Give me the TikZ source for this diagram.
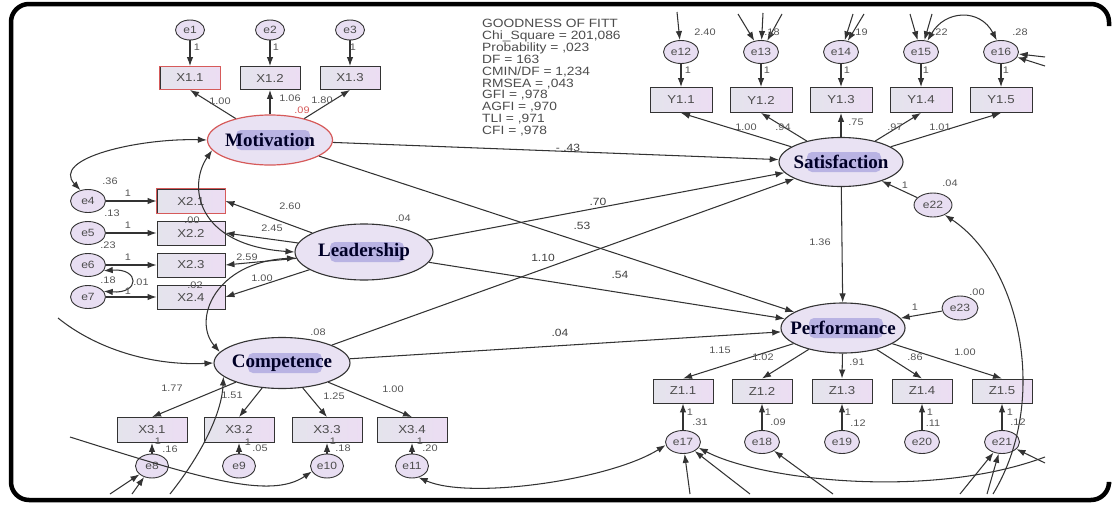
\documentclass[tikz,border=0pt]{standalone}
\usepackage{fontspec}
\setmainfont{Liberation Sans}
\newfontfamily\numfont{Liberation Sans}[FakeStretch=1.15]
\newfontfamily\latfont{Liberation Serif}
\usepackage{xcolor}
\usetikzlibrary{arrows.meta,shapes.geometric}
\definecolor{boxleft}{HTML}{E4E4EC}
\definecolor{boxright}{HTML}{ECDDF3}
\definecolor{errfill}{HTML}{E8DEF2}
\definecolor{latfill}{HTML}{E9E2F3}
\definecolor{blobcol}{HTML}{B9B3E3}
\definecolor{edgecol}{HTML}{333333}
\definecolor{labcol}{HTML}{555555}
\definecolor{redline}{HTML}{D65A5A}

\begin{document}
\begin{tikzpicture}[x=1pt,y=-1pt,>={Latex[length=9pt,width=6.5pt]},
 obs/.style={draw=edgecol,line width=0.9pt,left color=boxleft,right color=boxright,
   minimum width=62,minimum height=24,inner sep=0,
   font=\numfont\fontsize{11.5}{12}\selectfont,text=black!70},
 err/.style={ellipse,draw=edgecol,line width=0.9pt,fill=errfill,
   minimum width=34,minimum height=23,inner sep=0,
   font=\numfont\fontsize{10.5}{10}\selectfont,text=black!70},
 latent/.style={ellipse,draw=edgecol,line width=1.1pt,fill=latfill,inner sep=0,
   font=\latfont\bfseries\fontsize{19}{20}\selectfont,text=black!85!blue,
   path picture={\fill[blobcol,rounded corners=5pt]
     ([xshift=-34pt,yshift=-10pt]path picture bounding box.center) rectangle
     ([xshift=40pt,yshift=10pt]path picture bounding box.center);}},
 conn/.style={->,draw=edgecol,line width=1.05pt},
 cov/.style={<->,draw=edgecol,line width=1.05pt},
 lbl/.style={font=\numfont\fontsize{9.5}{10}\selectfont,text=labcol,inner sep=0},
 coef/.style={lbl,font=\numfont\fontsize{10.5}{11}\selectfont,text=black!75},
 gof/.style={align=left,inner sep=0,font=\numfont\fontsize{12}{11.9}\selectfont,text=black!70}]
    \useasboundingbox (0,0) rectangle (1114,506);
    % frame, open on the right
    \draw[line width=4.5pt,rounded corners=18pt] (1109,26) |- (11,4) |- (1109,500) -- (1109,484);

    % latent variables
    \node[latent,draw=redline,line width=1.2pt,minimum width=125,minimum height=50] (Mot)
      at (270,140) {\makebox[0pt]{Motivation}};
    \node[latent,minimum width=138,minimum height=56] (Lead) at (364,252) {\makebox[0pt]{Leadership}};
    \node[latent,minimum width=136,minimum height=51] (Comp) at (282,363) {\makebox[0pt]{Competence}};
    \node[latent,minimum width=124,minimum height=49] (Sat) at (841,162) {\makebox[0pt]{Satisfaction}};
    \node[latent,minimum width=124,minimum height=50] (Perf) at (843,328) {\makebox[0pt]{Performance}};
    \node[err,minimum width=38,minimum height=24] (e22) at (933,205) {e22};
    \node[err,minimum width=36,minimum height=24] (e23) at (960,308) {e23};

    % indicators
    \foreach \i/\x in {1/190,2/270,3/350} {
      \node[obs,minimum width=60,minimum height=23] (X1\i) at (\x,78) {X1.\i};
      \node[err,minimum width=29,minimum height=20] (e\i) at (\x,30) {e\i};
      \draw[conn] (e\i) -- (X1\i);
      \draw[conn] (Mot) -- (X1\i.south);
    }
    \foreach \i/\k/\y in {1/4/201,2/5/233,3/6/265,4/7/297} {
      \node[obs,minimum width=68] (X2\i) at (191,\y) {X2.\i};
      \node[err,minimum width=35] (e\k) at (88,\y) {e\k};
      \draw[conn] (e\k) -- (X2\i);
      \draw[conn] (Lead) -- (X2\i.east);
    }
    \foreach \i/\k/\x in {1/8/152,2/9/239,3/10/327,4/11/412} {
      \node[obs,minimum width=70,minimum height=25] (X3\i) at (\x,430) {X3.\i};
      \node[err,minimum width=33,minimum height=24] (e\k) at (\x,466) {e\k};
      \draw[conn] (e\k) -- (X3\i);
      \draw[conn] (Comp) -- (X3\i.north);
    }
    \foreach \i/\k/\x in {1/12/681,2/13/761,3/14/841,4/15/921,5/16/1001} {
      \node[obs,minimum height=25] (Y1\i) at (\x,100) {Y1.\i};
      \node[err,minimum width=35] (e\k) at (\x,52) {e\k};
      \draw[conn] (e\k) -- (Y1\i);
      \draw[conn] (Sat) -- (Y1\i.south);
    }
    \foreach \i/\k/\x in {1/17/683,2/18/762,3/19/842,4/20/922,5/21/1002} {
      \node[obs,minimum width=60] (Z1\i) at (\x,391) {Z1.\i};
      \node[err,minimum width=35] (e\k) at (\x,442) {e\k};
      \draw[conn] (e\k) -- (Z1\i);
      \draw[conn] (Perf) -- (Z1\i.north);
    }
    \draw[redline,line width=1pt] (X11.south west) rectangle (X11.north east);
    \draw[redline,line width=1pt] (X21.south west) rectangle (X21.north east);

    % structural paths
    \draw[conn] (Mot) -- (Sat);
    \draw[conn] (Mot) -- (Perf);
    \draw[conn] (Lead) -- (Sat);
    \draw[conn] (Lead) -- (Perf);
    \draw[conn] (Comp) -- (Sat);
    \draw[conn] (Comp) -- (Perf);
    \draw[conn] (Sat) -- (Perf);
    \draw[conn] (e22) -- (Sat);
    \draw[conn] (e23) -- (Perf);

    % covariances
    \draw[cov] (Mot.190) .. controls (188,185) and (195,245) .. (Lead.180);
    \draw[cov] (Lead.185) .. controls (215,262) and (192,320) .. (Comp.170);
    \draw[cov] (Mot.west) .. controls (140,138) and (50,158) .. (e4.125);
    \draw[cov] (e6.-20) .. controls (140,268) and (140,294) .. (e7.20);
    \draw[cov] (e15.60) .. controls (945,10) and (980,8) .. (e16.110);
    \draw[cov] (e11.-60) .. controls (470,500) and (610,480) .. (e17.190);

    % loose ends
    \coordinate (cl) at (58,318);
    \coordinate (cb) at (170,494);
    \coordinate (lc) at (70,437);
    \coordinate (rb) at (993,494);
    \coordinate (rr) at (1045,457);
    \draw[conn] (cl) .. controls (95,348) and (150,366) .. (Comp.west);
    \draw[conn] (cb) .. controls (205,450) and (222,410) .. (Comp.193);
    \draw[conn] (lc) .. controls (200,478) and (270,500) .. (e10.200);
    \draw[conn] (rb) .. controls (1050,400) and (1020,265) .. (e22.-40);
    \draw[conn] (rr) .. controls (930,500) and (760,480) .. (e17.-20);
    \foreach \k/\x/\y [count=\n] in {12/677/12,13/738/14,13/763/13,13/782/14,14/853/14,
        14/864/14,15/910/14,15/932/14,16/1045/57,16/1045/66,8/110/494,8/132/494,
        17/690/494,17/750/494,18/833/494,21/1045/463,21/987/494,21/960/494} {
      \coordinate (s\n) at (\x,\y);
      \draw[conn] (s\n) -- (e\k);
    }

    % estimates
    \foreach \px/\py/\txt [count=\n] in {220/101/1.00,290/98/1.06,322/100/1.80,
        290/206/2.60,272/228/2.45,247/257/2.59,262/278/1.00,
        172/388/1.77,232/395/1.51,334/396/1.25,393/389/1.00,
        746/127/1.00,783/127/.94,856/122/.75,895/127/.97,940/127/1.01,
        820/242/1.36,720/350/1.15,763/357/1.02,857/362/.91,915/357/.86,965/352/1.00,
        197/47/1,276/47/1,353/47/1,128/193/1,128/225/1,128/257/1,128/291/1,
        110/181/.36,112/213/.13,192/220/.00,108/245/.23,108/280/.18,141/282/.01,195/285/.02,
        403/218/.04,318/332/.08,158/441/1,248/442/1,333/441/1,420/441/1,
        170/449/.16,260/448/.05,343/448/.18,430/448/.20,
        688/70/1,767/70/1,847/70/1,926/70/1,1006/70/1,
        705/32/2.40,772/32/.18,860/32/.19,940/32/.22,1020/32/.28,
        905/185/1,950/183/.04,915/307/1,977/292/.00,
        690/412/1,768/412/1,848/412/1,930/412/1,1010/412/1,
        700/422/.31,778/422/.09,858/423/.12,933/423/.11,1018/422/.12} {
      \node[lbl] (v\n) at (\px,\py) {\txt};
    }
    \node[lbl,text=redline] (mv) at (302,110) {.09};
    \foreach \px/\py/\txt [count=\n] in {568/148/- .43,598/202/.70,582/226/.53,
        543/258/1.10,620/275/.54,560/333/.04} {
      \node[coef] (b\n) at (\px,\py) {\txt};
    }

    % fit indices
    \node[gof,anchor=north west] (fit) at (482,19)
      {GOODNESS OF FITT\\Chi\_Square = 201,086\\Probability = ,023\\DF = 163\\
       CMIN/DF = 1,234\\RMSEA = ,043\\GFI = ,978\\AGFI = ,970\\TLI = ,971\\CFI = ,978};
\end{tikzpicture}
\end{document}
